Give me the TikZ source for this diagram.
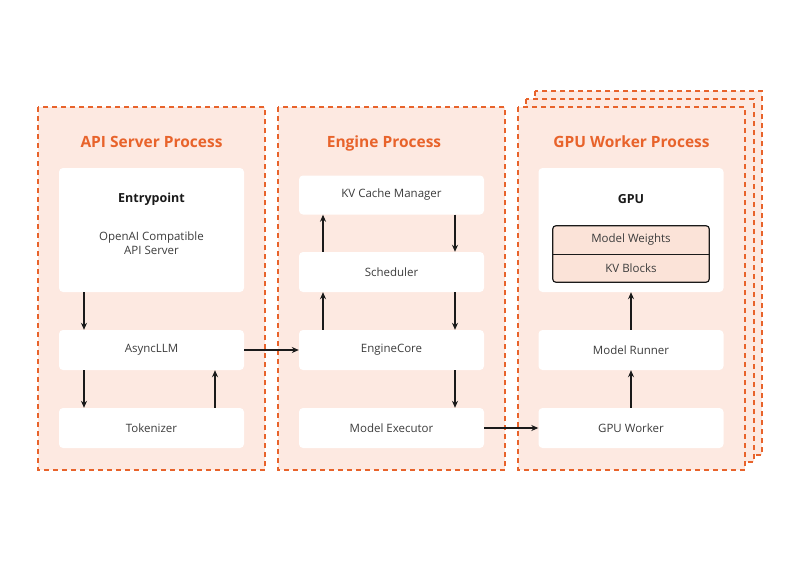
\documentclass[tikz,border=0pt]{standalone}
\usepackage{fontspec}
\setmainfont{Open Sans}
\usetikzlibrary{arrows.meta}
\definecolor{org}{HTML}{E8632B}
\definecolor{pfill}{HTML}{FDE9E1}
\definecolor{tfill}{HTML}{FBE3D8}
\definecolor{ink}{HTML}{1A1A1A}
\begin{document}
\begin{tikzpicture}[x=1pt,y=-1pt,
  panel/.style={draw=org,fill=pfill,line width=1.8pt,dash pattern=on 5pt off 4pt},
  title/.style={text=org,font=\fontsize{15.5}{18}\selectfont\bfseries,anchor=base},
  box/.style={fill=white,rounded corners=4pt},
  lbl/.style={font=\fontsize{11.5}{14}\selectfont,text=ink!85},
  arr/.style={draw=ink,line width=1.3pt,-{Stealth[length=7pt,width=6pt]}}]
\useasboundingbox[fill=white] (0,0) rectangle (800,560);
% panels
\draw[panel] (535,91) rectangle (762,455);
\draw[panel] (526,99) rectangle (754,462);
\draw[panel] (518,107) rectangle (745,470);
\draw[panel] (38,107) rectangle (265,470);
\draw[panel] (278,107) rectangle (505,470);
\node[title] (t1) at (151.5,147) {API Server Process};
\node[title] (t2) at (384,147) {Engine Process};
\node[title] (t3) at (631.5,147) {GPU Worker Process};
% API
\node[box,minimum width=185pt,minimum height=124pt] (entry) at (151.5,230) {};
\node[font=\fontsize{12.5}{15}\selectfont\bfseries,text=ink] (entryt) at (151.5,199) {Entrypoint};
\node[lbl,align=center] (entrys) at (151.5,243) {OpenAI Compatible\\API Server};
\node[box,minimum width=185pt,minimum height=40pt,lbl] (async) at (151.5,350) {AsyncLLM};
\node[box,minimum width=185pt,minimum height=40pt,lbl] (tok) at (151.5,428) {Tokenizer};
% Engine
\node[box,minimum width=185pt,minimum height=39pt,lbl] (kv) at (391.5,195) {KV Cache Manager};
\node[box,minimum width=185pt,minimum height=40pt,lbl] (sched) at (391.5,272) {Scheduler};
\node[box,minimum width=185pt,minimum height=40pt,lbl] (core) at (391.5,350) {EngineCore};
\node[box,minimum width=185pt,minimum height=40pt,lbl] (exec) at (391.5,428) {Model Executor};
% GPU
\node[box,minimum width=185pt,minimum height=124pt] (gpu) at (631,230) {};
\node[font=\fontsize{12.5}{15}\selectfont\bfseries,text=ink] (gput) at (631,199) {GPU};
\node[fill=tfill,minimum width=156pt,minimum height=28pt,lbl] (mw) at (631,240) {Model Weights};
\node[fill=tfill,minimum width=156pt,minimum height=28pt,lbl] (kvb) at (631,268) {KV Blocks};
\draw[draw=ink,line width=1.2pt,rounded corners=3pt] (mw.north west) rectangle (kvb.south east);
\draw[draw=ink,line width=1pt] (mw.south west) -- (mw.south east);
\node[box,minimum width=185pt,minimum height=40pt,lbl] (runner) at (631,350) {Model Runner};
\node[box,minimum width=185pt,minimum height=40pt,lbl] (worker) at (631,428) {GPU Worker};
% arrows
\draw[arr] (entry.south -| 84,0) -- (async.north -| 84,0);
\draw[arr] (async.south -| 84,0) -- (tok.north -| 84,0);
\draw[arr] (tok.north -| 215,0) -- (async.south -| 215,0);
\draw[arr] (async.east) -- (core.west);
\draw[arr] (sched.north -| 323,0) -- (kv.south -| 323,0);
\draw[arr] (core.north -| 323,0) -- (sched.south -| 323,0);
\draw[arr] (kv.south -| 455,0) -- (sched.north -| 455,0);
\draw[arr] (sched.south -| 455,0) -- (core.north -| 455,0);
\draw[arr] (core.south -| 455,0) -- (exec.north -| 455,0);
\draw[arr] (exec.east) -- (worker.west);
\draw[arr] (worker.north) -- (runner.south);
\draw[arr] (runner.north) -- (gpu.south);
\end{tikzpicture}
\end{document}
